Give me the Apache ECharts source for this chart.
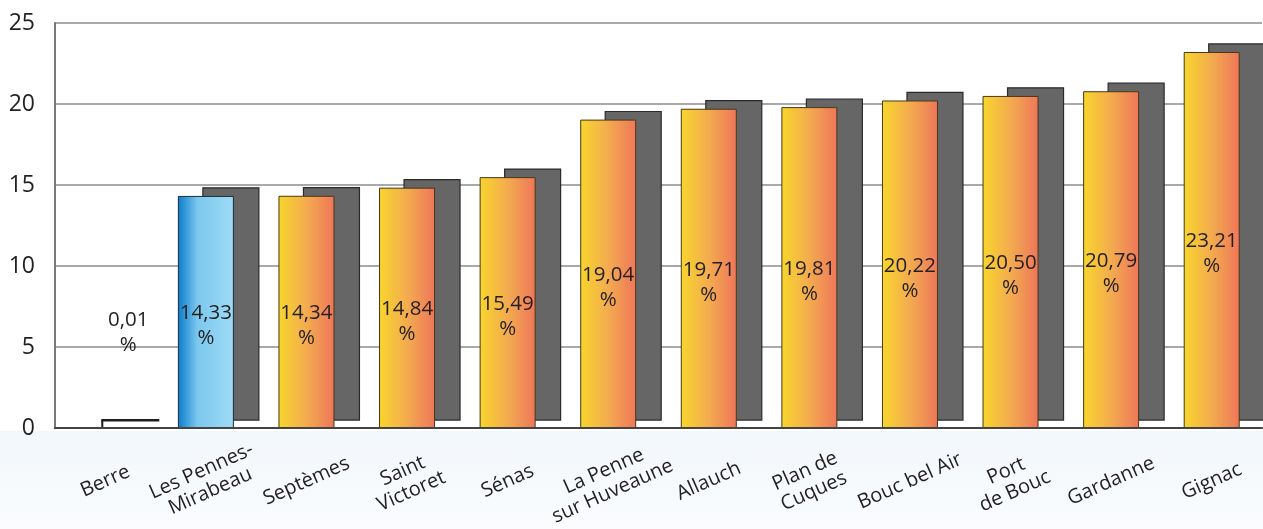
<!DOCTYPE html>
<html>
<head>
<meta charset="utf-8">
<script src="https://cdn.jsdelivr.net/npm/echarts@6/dist/echarts.min.js"></script>
<style>
  html, body { margin: 0; padding: 0; }
  #chart {
    width: 1263px; height: 529px;
    background: linear-gradient(to bottom, #ffffff 0px, #ffffff 431px, #f2f7fb 431px, #fafcfe 529px);
  }
</style>
</head>
<body>
<div id="chart"></div>
<script>
const categories = ['Berre', 'Les Pennes-\nMirabeau', 'Septèmes', 'Saint\nVictoret', 'Sénas',
  'La Penne\nsur Huveaune', 'Allauch', 'Plan de\nCuques', 'Bouc bel Air', 'Port\nde Bouc',
  'Gardanne', 'Gignac'];
const values = [0.01, 14.33, 14.34, 14.84, 15.49, 19.04, 19.71, 19.81, 20.22, 20.50, 20.79, 23.21];
const highlightIndex = 1;
const yMin = 0, yMax = 25, yStep = 5;

const DEPTH = 0.5;
const BAR_W = 56;
const SHIFT = 25;

const warm = { type: 'linear', x: 0, y: 0, x2: 1, y2: 0, colorStops: [
  { offset: 0, color: '#f8d62c' }, { offset: 0.5, color: '#f3ab4f' }, { offset: 1, color: '#ee765a' } ] };
const blue = { type: 'linear', x: 0, y: 0, x2: 1, y2: 0, colorStops: [
  { offset: 0, color: '#0a7ccc' }, { offset: 0.35, color: '#7cc8ee' }, { offset: 1, color: '#9fdbf6' } ] };

const fmt = v => v.toFixed(2).replace('.', ',') + '\n%';

const barData = values.map((v, i) => {
  const item = { value: v };
  if (i === highlightIndex) item.itemStyle = { color: blue, borderColor: '#1e2b38' };
  if (v < 1) item.label = { offset: [23, -95] };
  return item;
});

const chart = echarts.init(document.getElementById('chart'), null, { renderer: 'canvas' });
chart.setOption({
  backgroundColor: 'transparent',
  animation: false,
  grid: { left: 55, right: 1, top: 23, bottom: 99, containLabel: false },
  xAxis: {
    type: 'category',
    data: categories,
    axisTick: { show: false },
    axisLine: { show: true, lineStyle: { color: '#444', width: 2 } },
    axisLabel: {
      rotate: 24, align: 'center', verticalAlign: 'middle', margin: 53,
      fontFamily: 'Open Sans', fontSize: 20, color: '#231f20', lineHeight: 22,
      interval: 0
    },
    z: 5
  },
  yAxis: {
    type: 'value', min: yMin, max: yMax, interval: yStep,
    axisLine: { show: true, lineStyle: { color: '#777', width: 2 } },
    axisTick: { show: false },
    axisLabel: { fontFamily: 'Open Sans', fontSize: 23, color: '#231f20', margin: 20 },
    splitLine: { show: true, lineStyle: { color: '#8c8c8c', width: 1.5 } }
  },
  series: [
    {
      type: 'custom',
      z: 1,
      data: values.map((v, i) => [i, v]),
      renderItem: (params, api) => {
        const i = api.value(0), v = api.value(1);
        const top = api.coord([i, v + DEPTH]);
        const bot = api.coord([i, DEPTH]);
        const zero = api.coord([i, 0]);
        const x = top[0] - BAR_W / 2 + SHIFT;
        const h = bot[1] - top[1];
        return { type: 'group', children: [
          { type: 'rect', shape: { x: x, y: top[1], width: BAR_W, height: Math.max(h, 0.5) },
            style: { fill: '#666667', stroke: h < 2 ? '#1e1e1e' : '#2a2a2a', lineWidth: h < 2 ? 2 : 1.2 } },
          { type: 'line', shape: { x1: x, y1: bot[1], x2: x, y2: zero[1] },
            style: { stroke: '#1e1e1e', lineWidth: 2 } }
        ] };
      }
    },
    {
      type: 'bar',
      z: 3,
      barWidth: BAR_W,
      data: barData,
      itemStyle: { color: warm, borderColor: '#4a3712', borderWidth: 1 },
      label: {
        show: true, position: 'inside', offset: [0, 14],
        formatter: p => fmt(p.value),
        fontFamily: 'Open Sans', fontSize: 20.5, lineHeight: 25, color: '#231f20'
      }
    }
  ]
});
</script>
</body>
</html>
